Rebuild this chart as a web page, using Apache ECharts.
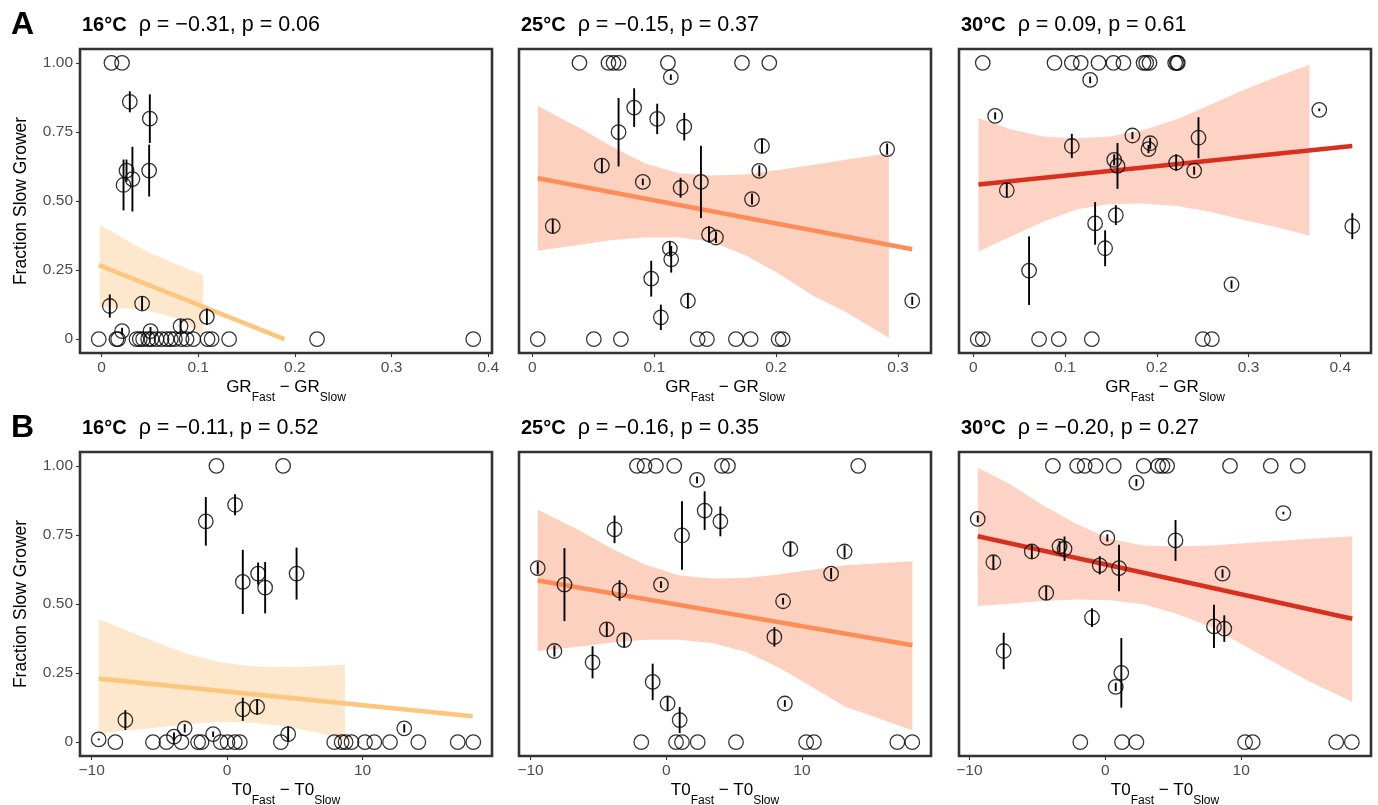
<!DOCTYPE html>
<html>
<head>
<meta charset="utf-8">
<title>Fraction slow grower vs growth differences</title>
<script src="https://cdn.jsdelivr.net/npm/echarts@6/dist/echarts.min.js"></script>
<style>
  html, body { margin: 0; padding: 0; background: #fff; }
  #chart { width: 1378px; height: 805px; }
</style>
</head>
<body>
<div id="chart"></div>
<script>
// ---- labels ----
const temps = ['16°C', '25°C', '30°C'];
const statsGR = ['ρ = −0.31, p = 0.06', 'ρ = −0.15, p = 0.37', 'ρ = 0.09, p = 0.61'];
const statsT0 = ['ρ = −0.11, p = 0.52', 'ρ = −0.16, p = 0.35', 'ρ = −0.20, p = 0.27'];
const yTicks = [0, 0.25, 0.5, 0.75, 1];
const yTickLabels = ['0', '0.25', '0.50', '0.75', '1.00'];
const grTicks16 = [0, 0.1, 0.2, 0.3, 0.4];
const grTicks25 = [0, 0.1, 0.2, 0.3];
const grTicks30 = [0, 0.1, 0.2, 0.3, 0.4];
const t0Ticks = [-10, 0, 10];

// ---- points: [difference, fraction slow grower, error half-width] ----
const grPts16 = [
  [0.0103, 1, 0], [0.0213, 1, 0],
  [0.0293, 0.859, 0.038], [0.050, 0.798, 0.088], [0.0259, 0.61, 0.04], [0.0228, 0.558, 0.092],
  [0.032, 0.579, 0.117], [0.0493, 0.61, 0.094],
  [0.0086, 0.12, 0.042], [0.042, 0.129, 0.025], [0.109, 0.081, 0.03],
  [0.0818, 0.047, 0.025], [0.089, 0.047, 0], [0.0213, 0.029, 0.012], [0.0507, 0.029, 0.015],
  [-0.0028, 0, 0], [0.0155, 0, 0], [0.0172, 0, 0], [0.0362, 0, 0], [0.0396, 0, 0], [0.0431, 0, 0],
  [0.0483, 0, 0], [0.0517, 0, 0], [0.0569, 0, 0], [0.0621, 0, 0], [0.0673, 0, 0], [0.0717, 0, 0],
  [0.0759, 0, 0], [0.0828, 0, 0], [0.088, 0, 0], [0.0949, 0, 0], [0.1097, 0, 0], [0.1139, 0, 0],
  [0.132, 0, 0], [0.2229, 0, 0], [0.3844, 0, 0]
];
const grPts25 = [
  [0.0386, 1, 0], [0.0624, 1, 0], [0.0666, 1, 0], [0.0707, 1, 0], [0.1112, 1, 0], [0.172, 1, 0], [0.1944, 1, 0],
  [0.1136, 0.948, 0.01], [0.0835, 0.838, 0.07], [0.0707, 0.749, 0.124], [0.1024, 0.797, 0.055],
  [0.1246, 0.769, 0.05], [0.1884, 0.699, 0.025], [0.2911, 0.688, 0.02], [0.057, 0.628, 0.025],
  [0.1862, 0.609, 0.02], [0.0906, 0.569, 0.012], [0.1216, 0.548, 0.036], [0.1383, 0.569, 0.131],
  [0.1802, 0.507, 0.02], [0.0167, 0.409, 0.025], [0.1449, 0.379, 0.03], [0.1506, 0.368, 0.02],
  [0.1128, 0.328, 0.025], [0.1139, 0.289, 0.048], [0.0975, 0.219, 0.065], [0.1276, 0.139, 0.027],
  [0.1054, 0.079, 0.046], [0.3117, 0.139, 0.015],
  [0.0044, 0, 0], [0.0504, 0, 0], [0.0726, 0, 0], [0.1356, 0, 0], [0.1432, 0, 0], [0.167, 0, 0],
  [0.1791, 0, 0], [0.2021, 0, 0], [0.2054, 0, 0]
];
const grPts30 = [
  [0.0102, 1, 0], [0.0884, 1, 0], [0.1073, 1, 0], [0.117, 1, 0], [0.1364, 1, 0], [0.1527, 1, 0],
  [0.1636, 1, 0], [0.1855, 1, 0], [0.1884, 1, 0], [0.192, 1, 0], [0.22, 1, 0], [0.2218, 1, 0], [0.2229, 1, 0],
  [0.1273, 0.938, 0.012], [0.0237, 0.808, 0.013], [0.3771, 0.83, 0.005], [0.1073, 0.699, 0.044],
  [0.1734, 0.737, 0.013], [0.1927, 0.709, 0.02], [0.1909, 0.688, 0.015], [0.2454, 0.729, 0.074],
  [0.1535, 0.649, 0.02], [0.1571, 0.627, 0.083], [0.2211, 0.639, 0.03], [0.2407, 0.61, 0.015],
  [0.0364, 0.539, 0.025], [0.1553, 0.449, 0.036], [0.1327, 0.419, 0.077], [0.1436, 0.329, 0.065],
  [0.0607, 0.248, 0.124], [0.2814, 0.198, 0.015], [0.4131, 0.409, 0.047],
  [0.0047, 0, 0], [0.0102, 0, 0], [0.0716, 0, 0], [0.0931, 0, 0], [0.1291, 0, 0], [0.2502, 0, 0], [0.26, 0, 0]
];
const t0Pts16 = [
  [-0.79, 1, 0], [4.14, 1, 0],
  [0.59, 0.859, 0.038], [-1.57, 0.799, 0.088], [1.16, 0.58, 0.116], [2.29, 0.61, 0.04],
  [2.81, 0.559, 0.093], [5.13, 0.61, 0.094],
  [-7.51, 0.08, 0.036], [1.16, 0.119, 0.042], [2.22, 0.128, 0.028], [-3.13, 0.05, 0.015],
  [13.08, 0.05, 0.015], [-1.03, 0.029, 0.01], [4.51, 0.029, 0.028], [-3.92, 0.02, 0.015], [-9.48, 0.01, 0.003],
  [-8.25, 0, 0], [-5.47, 0, 0], [-4.48, 0, 0], [-3.37, 0, 0], [-2.14, 0, 0], [-1.89, 0, 0],
  [-0.47, 0, 0], [0.03, 0, 0], [0.57, 0, 0], [0.94, 0, 0], [3.97, 0, 0], [7.91, 0, 0],
  [8.46, 0, 0], [8.75, 0, 0], [9.19, 0, 0], [10.18, 0, 0], [10.87, 0, 0], [12.03, 0, 0],
  [14.12, 0, 0], [17.03, 0, 0], [18.18, 0, 0]
];
const t0Pts25 = [
  [-2.16, 1, 0], [-1.6, 1, 0], [-0.76, 1, 0], [0.59, 1, 0], [4.11, 1, 0], [4.55, 1, 0], [14.15, 1, 0],
  [2.27, 0.949, 0.012], [2.83, 0.838, 0.07], [3.99, 0.799, 0.054], [1.16, 0.748, 0.124],
  [-3.81, 0.77, 0.05], [9.15, 0.699, 0.025], [13.14, 0.69, 0.022], [12.15, 0.61, 0.02],
  [-9.47, 0.63, 0.022], [-7.5, 0.57, 0.132], [-3.44, 0.549, 0.037], [-0.39, 0.57, 0.012],
  [8.61, 0.51, 0.012], [7.97, 0.381, 0.035], [-4.38, 0.408, 0.025], [-3.1, 0.369, 0.025],
  [-8.24, 0.33, 0.02], [-5.43, 0.289, 0.058], [-1.0, 0.218, 0.066], [0.1, 0.14, 0.025],
  [0.99, 0.08, 0.047], [8.74, 0.14, 0.012],
  [-1.84, 0, 0], [0.72, 0, 0], [1.16, 0, 0], [2.32, 0, 0], [5.14, 0, 0], [10.31, 0, 0],
  [10.88, 0, 0], [17.03, 0, 0], [18.13, 0, 0]
];
const t0Pts30 = [
  [-3.86, 1, 0], [-2.07, 1, 0], [-1.52, 1, 0], [-0.71, 1, 0], [0.62, 1, 0], [2.83, 1, 0],
  [3.89, 1, 0], [4.21, 1, 0], [4.55, 1, 0], [9.18, 1, 0], [12.18, 1, 0], [14.17, 1, 0],
  [2.29, 0.939, 0.013], [13.11, 0.829, 0.005], [-9.39, 0.808, 0.013], [0.15, 0.739, 0.013],
  [5.17, 0.73, 0.074], [-3.37, 0.708, 0.02], [-3.0, 0.7, 0.044], [-5.41, 0.69, 0.025],
  [-8.24, 0.651, 0.025], [-0.41, 0.64, 0.033], [1.01, 0.63, 0.084], [8.63, 0.61, 0.015],
  [-4.35, 0.54, 0.025], [-0.98, 0.451, 0.034], [8.0, 0.419, 0.078], [8.76, 0.411, 0.048],
  [-7.48, 0.33, 0.066], [1.18, 0.251, 0.126], [0.77, 0.2, 0.015],
  [-1.84, 0, 0], [1.23, 0, 0], [2.29, 0, 0], [10.29, 0, 0], [10.85, 0, 0], [17.0, 0, 0], [18.15, 0, 0]
];

// ---- fitted lines: [x, y] at both ends ----
const grFit16 = [[-0.0028, 0.268], [0.1892, 0.0]];
const grFit25 = [[0.0044, 0.582], [0.3117, 0.325]];
const grFit30 = [[0.0055, 0.56], [0.4131, 0.699]];
const t0Fit16 = [[-9.48, 0.23], [18.14, 0.094]];
const t0Fit25 = [[-9.47, 0.585], [18.14, 0.351]];
const t0Fit30 = [[-9.39, 0.745], [18.18, 0.447]];

// ---- confidence bands: [x, lower, upper] ----
const grBand16 = [
  [-0.0018, 0.117, 0.413], [0.0172, 0.113, 0.377], [0.0345, 0.108, 0.341],
  [0.0517, 0.099, 0.31], [0.0793, 0.075, 0.268], [0.1052, 0.012, 0.232]
];
const grBand25 = [
  [0.0044, 0.32, 0.844], [0.0378, 0.341, 0.767], [0.0652, 0.359, 0.697], [0.0926, 0.368, 0.636],
  [0.1199, 0.368, 0.6], [0.1473, 0.353, 0.592], [0.1747, 0.304, 0.596], [0.2021, 0.238, 0.612],
  [0.2295, 0.159, 0.63], [0.2569, 0.099, 0.649], [0.2925, 0.005, 0.673]
];
const grBand30 = [
  [0.0055, 0.316, 0.8], [0.04, 0.371, 0.76], [0.0764, 0.425, 0.733], [0.1127, 0.47, 0.727],
  [0.149, 0.489, 0.733], [0.1854, 0.491, 0.757], [0.2218, 0.482, 0.796], [0.2582, 0.461, 0.848],
  [0.2945, 0.431, 0.902], [0.3309, 0.405, 0.95], [0.3665, 0.374, 0.993]
];
const t0Band16 = [
  [-9.48, 0.031, 0.445], [-5.59, 0.05, 0.369], [-3.13, 0.064, 0.323], [-0.66, 0.074, 0.29],
  [1.8, 0.07, 0.275], [4.26, 0.058, 0.272], [6.73, 0.034, 0.275], [8.7, 0.004, 0.281]
];
const t0Band25 = [
  [-9.47, 0.33, 0.841], [-6.47, 0.345, 0.769], [-4.01, 0.361, 0.7], [-1.55, 0.371, 0.643],
  [0.91, 0.371, 0.604], [3.37, 0.359, 0.592], [5.83, 0.327, 0.594], [8.29, 0.27, 0.607],
  [10.75, 0.2, 0.624], [13.2, 0.128, 0.64], [18.14, 0.043, 0.655]
];
const t0Band30 = [
  [-9.39, 0.493, 0.993], [-7.06, 0.501, 0.935], [-4.6, 0.511, 0.857], [-2.14, 0.516, 0.79],
  [0.32, 0.514, 0.736], [2.78, 0.499, 0.712], [5.24, 0.465, 0.708], [7.7, 0.419, 0.712],
  [10.16, 0.351, 0.72], [12.62, 0.284, 0.728], [15.08, 0.218, 0.736], [18.18, 0.146, 0.745]
];

// ---- layout & styling ----
const FONT = '"Liberation Sans", Arial, Helvetica, sans-serif';
const lineColors = ['#fdc67f', '#fc8d59', '#d7301f'];
const bandColors = ['#fde8cd', '#fdd1c0', '#fdd3c6'];
const colLeft = [80, 519, 959];
const rowTop = [49, 452];
const panelW = 412, panelH = 304;

const panels = [
  { row: 0, col: 0, pts: grPts16, fit: grFit16, band: grBand16, ticks: grTicks16, min: -0.0222, max: 0.4038 },
  { row: 0, col: 1, pts: grPts25, fit: grFit25, band: grBand25, ticks: grTicks25, min: -0.0110, max: 0.3271 },
  { row: 0, col: 2, pts: grPts30, fit: grFit30, band: grBand30, ticks: grTicks30, min: -0.0157, max: 0.4335 },
  { row: 1, col: 0, pts: t0Pts16, fit: t0Fit16, band: t0Band16, ticks: t0Ticks, min: -10.86, max: 19.56 },
  { row: 1, col: 1, pts: t0Pts25, fit: t0Fit25, band: t0Band25, ticks: t0Ticks, min: -10.85, max: 19.51 },
  { row: 1, col: 2, pts: t0Pts30, fit: t0Fit30, band: t0Band30, ticks: t0Ticks, min: -10.77, max: 19.56 }
];

const grid = [], xAxis = [], yAxis = [], series = [];

panels.forEach((p, i) => {
  grid.push({
    left: colLeft[p.col], top: rowTop[p.row], width: panelW, height: panelH,
    show: true, borderColor: '#333333', borderWidth: 2.6, backgroundColor: '#ffffff', z: 0
  });
  xAxis.push({
    type: 'value', gridIndex: i, min: p.min, max: p.max, position: 'bottom',
    splitLine: { show: false },
    axisLine: { show: false, onZero: false },
    axisTick: { show: true, length: 4, customValues: p.ticks, lineStyle: { color: '#333333', width: 1.1 } },
    axisLabel: {
      show: true, customValues: p.ticks, margin: 7, color: '#4d4d4d', fontSize: 15.5, fontFamily: FONT,
      formatter: v => (v < 0 ? '−' + Math.abs(v) : String(v))
    }
  });
  yAxis.push({
    type: 'value', gridIndex: i, min: -0.05, max: 1.05, position: 'left',
    splitLine: { show: false },
    axisLine: { show: false, onZero: false },
    axisTick: { show: p.col === 0, length: 4, customValues: yTicks, lineStyle: { color: '#333333', width: 1.1 } },
    axisLabel: {
      show: p.col === 0, customValues: yTicks, margin: 7, color: '#4d4d4d', fontSize: 15.5, fontFamily: FONT,
      formatter: v => yTickLabels[yTicks.indexOf(v)]
    }
  });

  // confidence band as one polygon through the band rows
  const band = p.band;
  series.push({
    type: 'custom', xAxisIndex: i, yAxisIndex: i, silent: true, z: 1,
    data: band,
    renderItem: (params, api) => {
      if (params.dataIndex !== 0) return null;
      const poly = [];
      band.forEach(r => poly.push(api.coord([r[0], r[2]])));
      for (let k = band.length - 1; k >= 0; k--) poly.push(api.coord([band[k][0], band[k][1]]));
      return { type: 'polygon', shape: { points: poly }, style: { fill: bandColors[p.col] } };
    }
  });
  // fitted line
  series.push({
    type: 'line', xAxisIndex: i, yAxisIndex: i, data: p.fit, showSymbol: false, silent: true, z: 2,
    lineStyle: { color: lineColors[p.col], width: 4.6, cap: 'butt' }
  });
  // open circles
  series.push({
    type: 'scatter', xAxisIndex: i, yAxisIndex: i, silent: true, z: 3,
    data: p.pts.map(r => [r[0], r[1]]),
    symbol: 'circle', symbolSize: 14.5,
    itemStyle: { color: 'rgba(0,0,0,0)', borderColor: '#000000', borderWidth: 1.3 }
  });
  // vertical error bars
  series.push({
    type: 'custom', xAxisIndex: i, yAxisIndex: i, silent: true, z: 4,
    data: p.pts.filter(r => r[2] > 0),
    renderItem: (params, api) => {
      const x = api.value(0), y = api.value(1), e = api.value(2);
      const a = api.coord([x, y - e]), b = api.coord([x, y + e]);
      return { type: 'line', shape: { x1: a[0], y1: a[1], x2: b[0], y2: b[1] }, style: { stroke: '#000000', lineWidth: 1.9 } };
    }
  });
});

// titles, panel letters, axis titles
const graphic = [];
const titleRich = {
  b: { fontFamily: FONT, fontSize: 20, fontWeight: 'bold', fill: '#000' },
  n: { fontFamily: FONT, fontSize: 21.5, fill: '#000' }
};
[statsGR, statsT0].forEach((stats, r) => {
  stats.forEach((s, c) => {
    graphic.push({
      type: 'text', left: colLeft[c] + 2, top: rowTop[r] - 35, silent: true,
      style: { text: '{b|' + temps[c] + '}{n|  ' + s + '}', rich: titleRich }
    });
  });
});
['A', 'B'].forEach((L, r) => {
  graphic.push({
    type: 'text', left: 11, top: rowTop[r] - 40, silent: true,
    style: { text: L, fontFamily: FONT, fontSize: 32, fontWeight: 'bold', fill: '#000' }
  });
  graphic.push({
    type: 'text', silent: true, x: 21, y: rowTop[r] + panelH / 2, rotation: Math.PI / 2,
    style: { text: 'Fraction Slow Grower', fontFamily: FONT, fontSize: 17.5, fill: '#000',
             align: 'center', verticalAlign: 'middle' }
  });
});
const subRich = {
  m: { fontFamily: FONT, fontSize: 17, fill: '#000', lineHeight: 25, verticalAlign: 'top' },
  s: { fontFamily: FONT, fontSize: 12, fill: '#000', lineHeight: 25, verticalAlign: 'bottom' }
};
const xTitles = ['{m|GR}{s|Fast}{m| − GR}{s|Slow}', '{m|T0}{s|Fast}{m| − T0}{s|Slow}'];
xTitles.forEach((t, r) => {
  [0, 1, 2].forEach(c => {
    graphic.push({
      type: 'text', silent: true, x: colLeft[c] + panelW / 2, y: rowTop[r] + panelH + 26,
      style: { text: t, rich: subRich, align: 'center', verticalAlign: 'top' }
    });
  });
});

const chart = echarts.init(document.getElementById('chart'), null, { renderer: 'canvas' });
chart.setOption({
  animation: false,
  backgroundColor: '#ffffff',
  grid, xAxis, yAxis, series, graphic
});
</script>
</body>
</html>
